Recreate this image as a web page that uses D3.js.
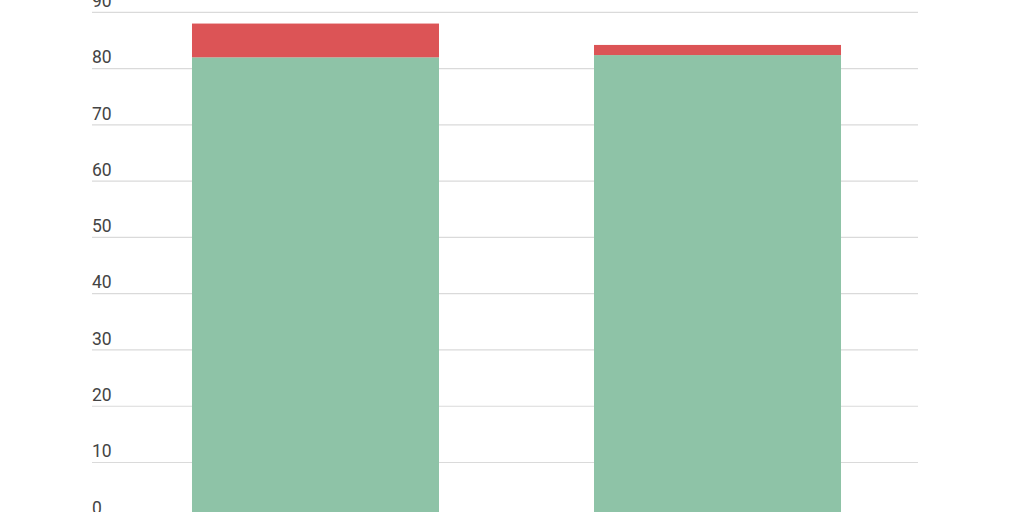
<!DOCTYPE html>
<html>
<head>
<meta charset="utf-8">
<script src="https://cdn.jsdelivr.net/npm/d3@7"></script>
<style>
  html, body { margin: 0; padding: 0; background: #fff; overflow: hidden; }
  svg { display: block; }
</style>
</head>
<body>
<div id="chart"></div>
<script>
// values
let categories = ['A', 'B']
let baseValues = [82, 82.4]
let topValues = [6, 1.8]
let yTicks = [0, 10, 20, 30, 40, 50, 60, 70, 80, 90]

let width = 1024
let height = 512

let svg = d3
  .select('#chart')
  .append('svg')
  .attr('width', width)
  .attr('height', height)

let xPositionScale = d3
  .scaleBand()
  .domain(categories)
  .range([115, 918])
  .paddingInner(0.3856)
  .paddingOuter(0.1915)

let yPositionScale = d3.scaleLinear().domain([0, 90]).range([518.8, 12.3])

// gridlines + labels
let grid = svg.append('g')
grid
  .selectAll('line')
  .data(yTicks)
  .enter()
  .append('line')
  .attr('x1', 92)
  .attr('x2', 918)
  .attr('y1', d => yPositionScale(d))
  .attr('y2', d => yPositionScale(d))
  .attr('stroke', '#dadada')
  .attr('stroke-width', 1.2)

grid
  .selectAll('text')
  .data(yTicks)
  .enter()
  .append('text')
  .attr('x', 92)
  .attr('y', d => yPositionScale(d) - 5.3)
  .text(d => d)
  .attr('font-family', 'Roboto, sans-serif')
  .attr('font-size', 17.5)
  .attr('fill', '#444')

let stackData = categories.map((c, i) => ({ cat: c, base: baseValues[i], top: topValues[i] }))
let series = d3.stack().keys(['base', 'top'])(stackData)
let colors = { base: '#8ec3a7', top: '#dc5456' }

svg
  .selectAll('.layer')
  .data(series)
  .enter()
  .append('g')
  .attr('class', 'layer')
  .attr('fill', d => colors[d.key])
  .selectAll('rect')
  .data(d => d)
  .enter()
  .append('rect')
  .attr('x', d => xPositionScale(d.data.cat))
  .attr('width', xPositionScale.bandwidth())
  .attr('y', d => yPositionScale(d[1]))
  .attr('height', d => yPositionScale(d[0]) - yPositionScale(d[1]))
</script>
</body>
</html>
